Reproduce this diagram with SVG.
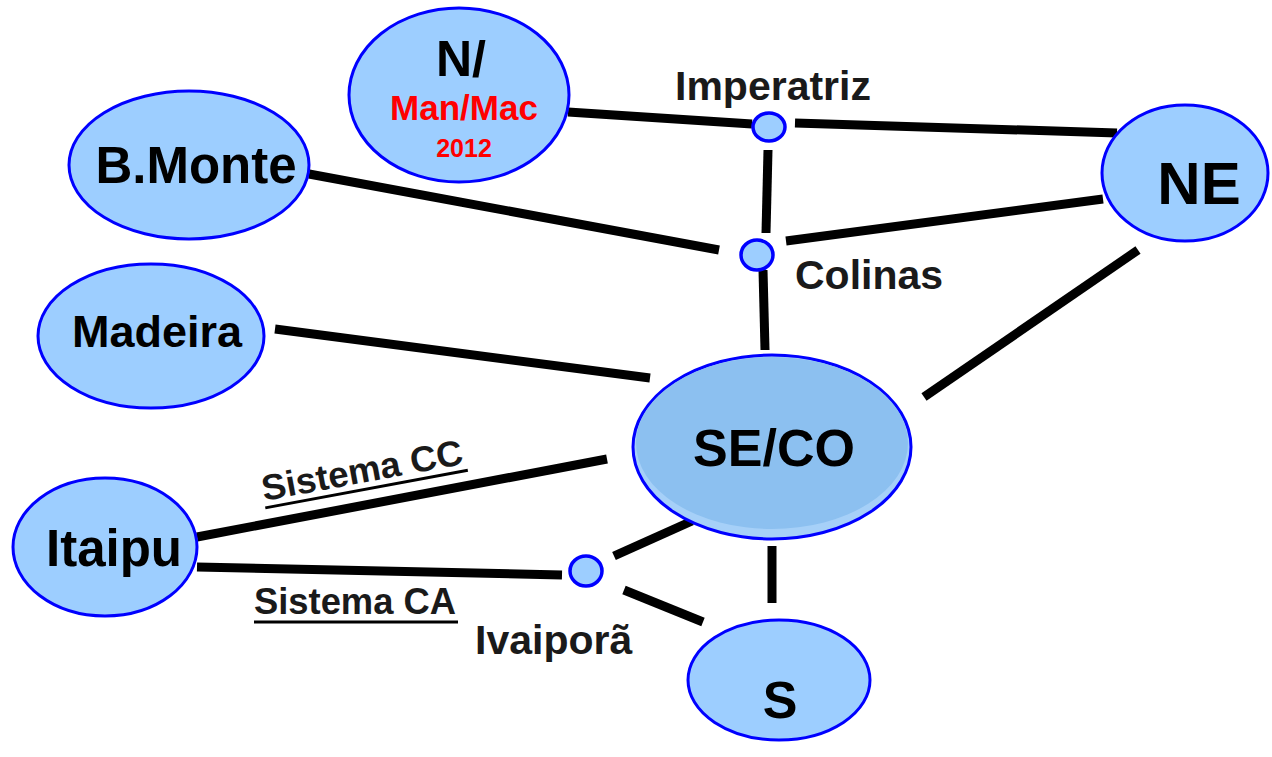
<svg xmlns="http://www.w3.org/2000/svg" width="1272" height="757" viewBox="0 0 1272 757">
<style>
.n{fill:#9DCEFF;stroke:#0000FF;stroke-width:3}
.j{fill:#9DCEFF;stroke:#0000FF;stroke-width:3.5}
.t{font-family:"Liberation Sans",Arial,sans-serif;font-weight:bold;fill:#000;text-anchor:middle}
.l{font-family:"Liberation Sans",Arial,sans-serif;font-weight:bold;fill:#1a1a1a}
.r{fill:#FF0000}
#connectors line{stroke:#000;stroke-width:9}
.u{stroke:#000;stroke-width:3}
</style>
<rect width="1272" height="757" fill="#fff"/>
<g id="connectors">
<line x1="568" y1="112" x2="752" y2="124"/>
<line x1="795" y1="123" x2="1117" y2="133"/>
<line x1="768" y1="150" x2="766" y2="233"/>
<line x1="309" y1="174" x2="719" y2="250"/>
<line x1="786" y1="241" x2="1103" y2="199"/>
<line x1="763" y1="270" x2="765" y2="350"/>
<line x1="1138" y1="250" x2="924" y2="397"/>
<line x1="275" y1="329" x2="650" y2="378"/>
<line x1="197" y1="537" x2="607" y2="459"/>
<line x1="197" y1="567" x2="562" y2="575"/>
<line x1="614" y1="556" x2="692" y2="521"/>
<line x1="624" y1="590" x2="703" y2="622"/>
<line x1="772" y1="546" x2="772" y2="603"/>
</g>
<g id="node-N">
<ellipse class="n" cx="459" cy="95" rx="110" ry="87"/>
<text class="t" x="461" y="76" font-size="50">N/</text>
<text class="t r" x="464" y="120" font-size="35">Man/Mac</text>
<text class="t r" x="464" y="157" font-size="25">2012</text>
</g>
<g id="node-BMonte">
<ellipse class="n" cx="189" cy="165" rx="120" ry="74"/>
<text class="t" x="196" y="183" font-size="51">B.Monte</text>
</g>
<g id="node-Madeira">
<ellipse class="n" cx="151" cy="336" rx="113" ry="72"/>
<text class="t" x="157" y="347" font-size="45">Madeira</text>
</g>
<g id="node-Itaipu">
<ellipse class="n" cx="105" cy="547" rx="92" ry="69"/>
<text class="t" x="114" y="566" font-size="51">Itaipu</text>
</g>
<g id="node-SECO">
<ellipse cx="772" cy="447" rx="139" ry="92" fill="#A6D0F8" stroke="#0000FF" stroke-width="3"/>
<ellipse cx="772" cy="443" rx="136" ry="86" fill="#8CC0F0"/>
<text class="t" x="774" y="466" font-size="52">SE/CO</text>
</g>
<g id="node-NE">
<ellipse class="n" cx="1185" cy="173" rx="83" ry="68"/>
<text class="t" x="1199" y="204" font-size="60">NE</text>
</g>
<g id="node-S">
<ellipse class="n" cx="779" cy="680" rx="91" ry="60"/>
<text class="t" x="780" y="718" font-size="52">S</text>
</g>
<g id="node-Imperatriz">
<ellipse class="j" cx="769" cy="127" rx="16" ry="14"/>
<text class="l" x="675" y="100" font-size="41">Imperatriz</text>
</g>
<g id="node-Colinas">
<ellipse class="j" cx="757" cy="255" rx="16" ry="15"/>
<text class="l" x="795" y="289" font-size="41">Colinas</text>
</g>
<g id="node-Ivaipora">
<ellipse class="j" cx="586" cy="571" rx="16" ry="15"/>
<text class="l" x="475" y="654" font-size="41">Ivaiporã</text>
</g>
<g id="label-CC">
<g transform="translate(264,501) rotate(-10.5)">
<text class="l" x="0" y="0" font-size="36" textLength="204" lengthAdjust="spacingAndGlyphs">Sistema CC</text>
<line class="u" x1="0" y1="7" x2="206" y2="7"/>
</g>
</g>
<g id="label-CA">
<text class="l" x="254" y="614" font-size="36" textLength="202" lengthAdjust="spacingAndGlyphs">Sistema CA</text>
<line class="u" x1="254" y1="622" x2="458" y2="622"/>
</g>
</svg>
